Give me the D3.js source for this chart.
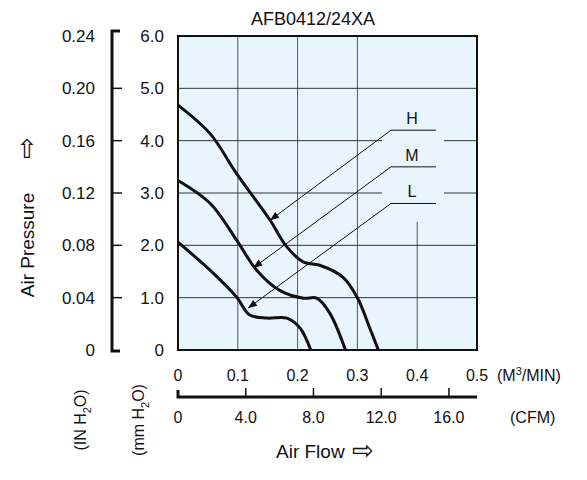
<!DOCTYPE html>
<html><head><meta charset="utf-8">
<script src="https://cdn.jsdelivr.net/npm/d3@7"></script>
<style>body{margin:0;background:#fff}text{font-family:"Liberation Sans",Arial,sans-serif;fill:#111}</style>
</head><body><svg width="587" height="480"></svg>
<script>
// curves: [m3/min, mmH2O]
var curveH = [[0,4.68],[0.054,4.13],[0.098,3.37],[0.154,2.48],[0.182,1.97],[0.21,1.68],[0.237,1.62],[0.276,1.39],[0.3,1.0],[0.32,0.44],[0.335,0]];
var curveM = [[0,3.24],[0.054,2.8],[0.098,2.1],[0.132,1.52],[0.17,1.14],[0.21,0.99],[0.232,0.99],[0.254,0.7],[0.28,0]];
var curveL = [[0,2.06],[0.054,1.52],[0.098,1.01],[0.12,0.67],[0.149,0.61],[0.182,0.61],[0.204,0.42],[0.222,0]];
var labels = ['H', 'M', 'L'];
var labelY = [4.2, 3.5, 2.8];     // mmH2O level of label leader
var arrowAt = [[0.154,2.48],[0.126,1.57],[0.117,0.8]];
var mmTicks = [0,1,2,3,4,5,6];
var inTicks = [0,0.04,0.08,0.12,0.16,0.20,0.24];
var flowTicks = [0,0.1,0.2,0.3,0.4,0.5];
var cfmTicks = [0,4,8,12,16];

var svg = d3.select('svg');
var x = d3.scaleLinear().domain([0,0.5]).range([178,477]);
var y = d3.scaleLinear().domain([0,6]).range([350,36]);
var yIn = d3.scaleLinear().domain([0,0.24]).range([350,36]);
var xCfm = d3.scaleLinear().domain([0,0.5*35.315]).range([178,477]);

svg.append('defs').append('marker').attr('id','ar').attr('viewBox','0 0 10 10')
  .attr('refX',10).attr('refY',5).attr('markerWidth',15).attr('markerHeight',9)
  .attr('markerUnits','userSpaceOnUse').attr('orient','auto')
  .append('path').attr('d','M0,1L10,5L0,9z').attr('fill','#111');

svg.append('rect').attr('x',178).attr('y',36).attr('width',299).attr('height',314).attr('fill','#e9f5fd');
// grid (the 0.4 line only starts below the labels)
svg.selectAll('.gx').data(flowTicks.slice(1,-1)).enter().append('line')
  .attr('x1',d=>x(d)).attr('x2',d=>x(d)).attr('y1',d=>d===0.4?y(2.45):36).attr('y2',350).attr('stroke','#555').attr('stroke-width',1);
svg.selectAll('.gy').data(mmTicks.slice(1,-1)).enter().append('line')
  .attr('x1',178).attr('x2',477).attr('y1',d=>y(d)).attr('y2',d=>y(d)).attr('stroke','#333').attr('stroke-width',1);
// clear area behind labels
svg.append('rect').attr('x',382).attr('y',100).attr('width',62).attr('height',106).attr('fill','#e9f5fd');
svg.append('rect').attr('x',178).attr('y',36).attr('width',299).attr('height',314).attr('fill','none').attr('stroke','#111').attr('stroke-width',2);

var line = d3.line().x(d=>x(d[0])).y(d=>y(d[1])).curve(d3.curveCatmullRom.alpha(0.5));
[curveH,curveM,curveL].forEach(function(c){
  svg.append('path').attr('d',line(c)).attr('fill','none').attr('stroke','#111').attr('stroke-width',3);
});
labels.forEach(function(l,i){
  var yy = y(labelY[i]);
  svg.append('text').attr('x',412).attr('y',yy-6).attr('text-anchor','middle').attr('font-size',16).text(l);
  svg.append('line').attr('x1',391).attr('x2',436).attr('y1',yy).attr('y2',yy).attr('stroke','#111');
  svg.append('line').attr('x1',391).attr('y1',yy).attr('x2',x(arrowAt[i][0])).attr('y2',y(arrowAt[i][1]))
    .attr('stroke','#111').attr('stroke-width',1).attr('marker-end','url(#ar)');
});

// left axes
svg.append('path').attr('d','M120,31H112V351H120').attr('fill','none').attr('stroke','#111').attr('stroke-width',3);
svg.selectAll('.ti').data(inTicks.slice(1,-1)).enter().append('line')
  .attr('x1',112).attr('x2',122).attr('y1',d=>yIn(d)).attr('y2',d=>yIn(d)).attr('stroke','#111').attr('stroke-width',1.5);
svg.selectAll('.li').data(inTicks).enter().append('text').attr('x',95).attr('y',d=>yIn(d)+6)
  .attr('text-anchor','end').attr('font-size',17).text(d=>d===0?'0':d.toFixed(2));
svg.selectAll('.lm').data(mmTicks).enter().append('text').attr('x',164).attr('y',d=>y(d)+6)
  .attr('text-anchor','end').attr('font-size',17).text(d=>d===0?'0':d.toFixed(1));

// bottom axes
svg.selectAll('.lf').data(flowTicks).enter().append('text').attr('x',d=>x(d)).attr('y',381)
  .attr('text-anchor','middle').attr('font-size',16).text(d=>d===0?'0':d.toFixed(1));
svg.append('path').attr('d','M178,390V397H477').attr('fill','none').attr('stroke','#111').attr('stroke-width',3);
svg.selectAll('.tc').data(cfmTicks.slice(1)).enter().append('line')
  .attr('x1',d=>xCfm(d)).attr('x2',d=>xCfm(d)).attr('y1',397).attr('y2',388).attr('stroke','#111').attr('stroke-width',1.5);
svg.selectAll('.lc').data(cfmTicks).enter().append('text').attr('x',d=>xCfm(d)).attr('y',423)
  .attr('text-anchor','middle').attr('font-size',16).text(d=>d===0?'0':d.toFixed(1));

svg.append('text').attr('x',313).attr('y',25).attr('text-anchor','middle').attr('font-size',18).text('AFB0412/24XA');
svg.append('text').attr('x',497).attr('y',381).attr('font-size',16).html('(M<tspan dy="-6" font-size="11">3</tspan><tspan dy="6">/MIN)</tspan>');
svg.append('text').attr('x',510).attr('y',423).attr('font-size',16).text('(CFM)');
svg.append('text').attr('x',276).attr('y',458).attr('font-size',19).text('Air Flow');
svg.append('text').attr('x',352).attr('y',459).attr('font-size',26).style('font-family','DejaVu Sans').text('\u21E8');
svg.append('text').attr('transform','translate(34,245) rotate(-90)').attr('text-anchor','middle').attr('font-size',19).text('Air Pressure');
svg.append('text').attr('transform','translate(35,148) rotate(-90)').attr('text-anchor','middle').attr('font-size',26).style('font-family','DejaVu Sans').text('\u21E8');
svg.append('text').attr('transform','translate(86,420) rotate(-90)').attr('text-anchor','middle').attr('font-size',16)
  .html('(IN H<tspan dy="5" font-size="11">2</tspan><tspan dy="-5">O)</tspan>');
svg.append('text').attr('transform','translate(144,420) rotate(-90)').attr('text-anchor','middle').attr('font-size',16)
  .html('(mm H<tspan dy="5" font-size="11">2</tspan><tspan dy="-5">O)</tspan>');
</script></body></html>
